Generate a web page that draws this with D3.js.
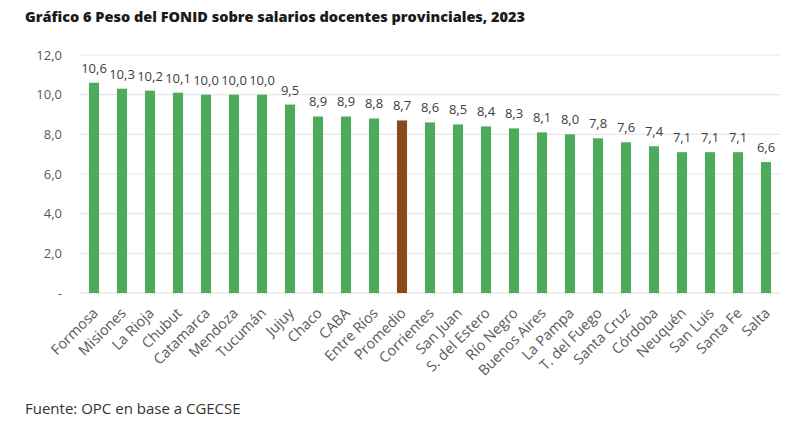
<!DOCTYPE html>
<html><head><meta charset="utf-8">
<script src="https://cdn.jsdelivr.net/npm/d3@7"></script>
<style>body{margin:0;background:#fff;} text{font-family:"Open Sans","Lato",sans-serif;}</style>
</head><body>
<svg id="c" width="797" height="434"></svg>
<script>
const categories = ["Formosa","Misiones","La Rioja","Chubut","Catamarca","Mendoza","Tucumán","Jujuy","Chaco","CABA","Entre Ríos","Promedio","Corrientes","San Juan","S. del Estero","Río Negro","Buenos Aires","La Pampa","T. del Fuego","Santa Cruz","Córdoba","Neuquén","San Luis","Santa Fe","Salta"];
const values = [10.6,10.3,10.2,10.1,10.0,10.0,10.0,9.5,8.9,8.9,8.8,8.7,8.6,8.5,8.4,8.3,8.1,8.0,7.8,7.6,7.4,7.1,7.1,7.1,6.6];
const yTicks = [0,2,4,6,8,10,12];
const highlight = "Promedio";

const svg = d3.select("#c");
const x = d3.scaleBand().domain(categories).range([80,780]).paddingInner(0.64).paddingOuter(0.32);
const y = d3.scaleLinear().domain([0,12]).range([293,55]);
const fmt = v => v===0 ? "-" : d3.format(".1f")(v).replace(".",",");

svg.append("text").attr("x",25).attr("y",22).attr("font-size",14.5).attr("font-weight",800).attr("fill","#1a1a1a")
  .text("Gráfico 6 Peso del FONID sobre salarios docentes provinciales, 2023");

const g = svg.append("g");
g.selectAll("line.grid").data(yTicks).join("line").attr("class","grid")
  .attr("x1",80).attr("x2",780).attr("y1",d=>y(d)).attr("y2",d=>y(d))
  .attr("stroke",d=>d===0?"#d9d9d9":"#e6e6e6").attr("stroke-width",1.2);

const yAxis = d3.axisLeft(y).tickValues(yTicks).tickFormat(fmt).tickSize(0).tickPadding(18);
const ya = svg.append("g").attr("transform","translate(80,0)").call(yAxis);
ya.select(".domain").remove();
ya.selectAll("text").attr("font-size",13).attr("fill","#595959").attr("font-family","Open Sans, sans-serif");

g.selectAll("rect").data(categories).join("rect")
  .attr("x",d=>x(d)).attr("width",x.bandwidth())
  .attr("y",(d,i)=>y(values[i])).attr("height",(d,i)=>y(0)-y(values[i]))
  .attr("fill",d=>d===highlight?"#8B4A1C":"#4EAB5B");

g.selectAll("text.val").data(categories).join("text").attr("class","val")
  .attr("x",d=>x(d)+x.bandwidth()/2).attr("y",(d,i)=>y(values[i])-10)
  .attr("text-anchor","middle").attr("font-size",13).attr("fill","#404040")
  .text((d,i)=>fmt(values[i]));

const xAxis = d3.axisBottom(x).tickSize(0).tickPadding(0);
const xa = svg.append("g").attr("transform","translate(0,293)").call(xAxis);
xa.select(".domain").remove();
xa.selectAll("text").attr("font-size",14.5).attr("fill","#595959").attr("text-anchor","end")
  .attr("font-family","Open Sans, sans-serif")
  .attr("dy",0).attr("transform",d=>`translate(${x.bandwidth()/2+5},${21}) rotate(-45)`)
  .attr("x",0).attr("y",0);
xa.selectAll(".tick").attr("transform",d=>`translate(${x(d)},0)`);

svg.append("text").attr("x",25).attr("y",414).attr("font-size",15).attr("fill","#333")
  .text("Fuente: OPC en base a CGECSE");
</script>
</body></html>
